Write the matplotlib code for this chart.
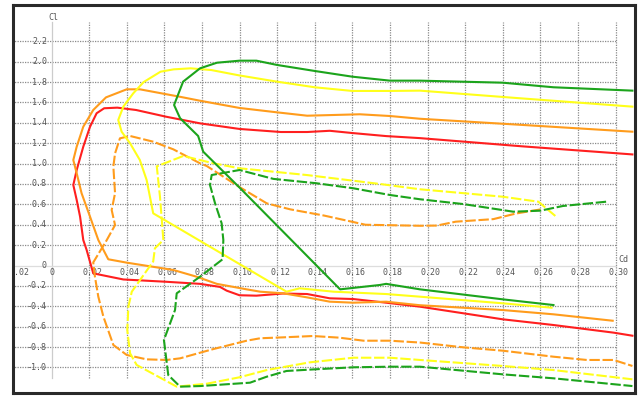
import matplotlib.pyplot as plt

# polaires Cl(Cd) - courbe pleine = extrados, pointillés = intrados
red_cd = [0.309, 0.25, 0.196, 0.178, 0.16, 0.148, 0.136, 0.122, 0.10, 0.079, 0.061, 0.045, 0.035,
          0.028, 0.024, 0.0205, 0.0169, 0.0134, 0.0116, 0.0134, 0.0152, 0.0169, 0.0187, 0.0222,
          0.0382, 0.0613, 0.079, 0.0896, 0.0932, 0.10, 0.109, 0.123, 0.136, 0.148, 0.1605,
          0.178, 0.196, 0.240, 0.267, 0.299, 0.309]
red_cl = [1.09, 1.17, 1.25, 1.27, 1.30, 1.322, 1.31, 1.31, 1.34, 1.395, 1.46, 1.526, 1.549,
          1.543, 1.494, 1.362, 1.166, 0.937, 0.79, 0.643, 0.479, 0.25, 0.152, -0.077,
          -0.137, -0.16, -0.18, -0.21, -0.247, -0.292, -0.296, -0.275, -0.28, -0.322, -0.329,
          -0.365, -0.404, -0.528, -0.584, -0.659, -0.689]

orange_cd = [0.309, 0.25, 0.196, 0.18, 0.164, 0.15, 0.136, 0.12, 0.10, 0.079, 0.068, 0.047, 0.04,
             0.029, 0.0222, 0.0169, 0.0134, 0.0116, 0.0134, 0.016, 0.0205, 0.0249, 0.0302,
             0.04, 0.0648, 0.0772, 0.0879, 0.1038, 0.111, 0.1233, 0.1357, 0.148, 0.1605,
             0.178, 0.196, 0.240, 0.267, 0.2985]
orange_cl = [1.313, 1.38, 1.44, 1.467, 1.484, 1.477, 1.47, 1.503, 1.546, 1.617, 1.657, 1.729, 1.729,
             1.65, 1.526, 1.362, 1.166, 1.035, 0.905, 0.709, 0.479, 0.25, 0.061,
             0.028, -0.044, -0.11, -0.18, -0.234, -0.257, -0.273, -0.312, -0.355, -0.365,
             -0.355, -0.39, -0.437, -0.479, -0.542]

yellow_cd = [0.309, 0.25, 0.196, 0.18, 0.16, 0.14, 0.12, 0.10, 0.085, 0.074, 0.065, 0.058, 0.049,
             0.0435, 0.0382, 0.0355, 0.0373, 0.0418, 0.047, 0.0506, 0.0541, 0.125, 0.132,
             0.15, 0.178, 0.196, 0.240, 0.266]
yellow_cl = [1.559, 1.64, 1.716, 1.713, 1.713, 1.749, 1.804, 1.865, 1.918, 1.935, 1.925, 1.902, 1.80,
             1.69, 1.559, 1.428, 1.313, 1.199, 1.035, 0.839, 0.512, -0.257, -0.224,
             -0.257, -0.28, -0.306, -0.371, -0.414]

green_cd = [0.309, 0.267, 0.240, 0.196, 0.18, 0.16, 0.14, 0.12, 0.109, 0.10, 0.088, 0.079, 0.070,
            0.0652, 0.0684, 0.078, 0.0807, 0.10, 0.1535, 0.1747, 0.178, 0.196, 0.240, 0.267]
green_cl = [1.716, 1.749, 1.794, 1.814, 1.814, 1.853, 1.909, 1.968, 2.01, 2.01, 1.99, 1.935, 1.804,
            1.575, 1.445, 1.271, 1.117, 0.765, -0.234, -0.191, -0.18, -0.234, -0.332, -0.388]

orange_d_cd = [0.26, 0.247, 0.235, 0.215, 0.205, 0.196, 0.167, 0.145, 0.127, 0.1145, 0.10, 0.0826,
               0.079, 0.0648, 0.0541, 0.0418, 0.0364, 0.0338, 0.0329, 0.0338, 0.032, 0.0338,
               0.0294, 0.0222, 0.0231, 0.0249, 0.0276, 0.0329, 0.04, 0.0506, 0.0613, 0.0684,
               0.079, 0.0861, 0.1038, 0.111, 0.1233, 0.139, 0.153, 0.166, 0.18, 0.196, 0.219,
               0.240, 0.267, 0.2847, 0.299, 0.309]
orange_d_cl = [0.55, 0.51, 0.455, 0.43, 0.392, 0.39, 0.40, 0.49, 0.551, 0.61, 0.77, 0.976,
               1.003, 1.14, 1.215, 1.271, 1.248, 1.10, 0.97, 0.709, 0.545, 0.397,
               0.25, 0.03, -0.11, -0.306, -0.502, -0.78, -0.878, -0.921, -0.927, -0.911,
               -0.856, -0.82, -0.738, -0.714, -0.705, -0.692, -0.708, -0.738, -0.738, -0.756, -0.803,
               -0.836, -0.895, -0.927, -0.927, -0.986]

yellow_d_cd = [0.268, 0.2625, 0.259, 0.240, 0.196, 0.1747, 0.1357, 0.10, 0.0861, 0.0701, 0.056,
               0.0577, 0.0595, 0.055, 0.0541, 0.0427, 0.0409, 0.0403, 0.0418, 0.0453, 0.0666,
               0.0826, 0.10, 0.1145, 0.1375, 0.1605, 0.18, 0.196, 0.240, 0.267, 0.309]
yellow_d_cl = [0.486, 0.571, 0.626, 0.675, 0.748, 0.80, 0.888, 0.954, 1.003, 1.075, 0.973,
               0.675, 0.25, 0.169, 0.04, -0.257, -0.404, -0.633, -0.862, -0.976, -1.189,
               -1.16, -1.097, -1.026, -0.95, -0.905, -0.905, -0.927, -0.986, -1.026, -1.117]

green_d_cd = [0.295, 0.272, 0.26, 0.2456, 0.219, 0.196, 0.18, 0.1605, 0.141, 0.118, 0.10, 0.0852,
              0.0843, 0.087, 0.0905, 0.0914, 0.091, 0.079, 0.0666, 0.0657, 0.0598, 0.0621,
              0.0684, 0.079, 0.1056, 0.1145, 0.125, 0.14, 0.1605, 0.18, 0.196, 0.240, 0.267, 0.309]
green_d_cl = [0.626, 0.584, 0.538, 0.528, 0.603, 0.65, 0.692, 0.758, 0.807, 0.85, 0.937, 0.888,
              0.79, 0.61, 0.414, 0.25, 0.061, -0.11, -0.273, -0.437, -0.731, -1.075,
              -1.189, -1.183, -1.15, -1.091, -1.035, -1.019, -0.999, -0.993, -0.993, -1.068, -1.107, -1.183]

x_ticks = [-0.02, 0, 0.02, 0.04, 0.06, 0.08, 0.10, 0.12, 0.14, 0.16, 0.18, 0.20, 0.22, 0.24,
           0.26, 0.28, 0.30]
x_labels = ['-0.02', '0', '0.02', '0.04', '0.06', '0.08', '0.10', '0.12', '0.14', '0.16', '0.18',
            '0.20', '0.22', '0.24', '0.26', '0.28', '0.30']
y_ticks = [-1.0, -0.8, -0.6, -0.4, -0.2, 0, 0.2, 0.4, 0.6, 0.8, 1.0, 1.2, 1.4, 1.6, 1.8, 2.0, 2.2]
y_labels = ['-1.0', '-0.8', '-0.6', '-0.4', '-0.2', '0', '0.2', '0.4', '0.6', '0.8', '1.0',
            '1.2', '1.4', '1.6', '1.8', '2.0', '2.2']

RED = '#ff1f1f'
ORANGE = '#ff9c1c'
YELLOW = '#ffff1a'
GREEN = '#1ca41c'
DASH = (0, (5, 1.3))

fig = plt.figure(figsize=(6.43, 3.96), dpi=100)
ax = fig.add_axes([13 / 643, 3 / 396, 622 / 643, 388 / 396])
ax.set_xlim(-0.02048, 0.31037)
ax.set_ylim(-1.2512, 2.5564)
ax.set_xticks([])
ax.set_yticks([])
for s in ax.spines.values():
    s.set_color('#2a2a2a')
    s.set_linewidth(2.2)

# grille pointillée
grid_kw = dict(color='#8a8a8a', lw=0.9, linestyle=(0, (1, 1)), zorder=1)
for y in y_ticks:
    if y != 0:
        ax.plot([-0.021, 0.30], [y, y], **grid_kw)
for x in x_ticks[2:]:
    ax.plot([x, x], [-1.1, 2.39], **grid_kw)
ax.plot([0, 0], [-1.1, 2.39], color='#cccccc', lw=0.9, zorder=1)
ax.plot([-0.021, 0.30], [0, 0], color='#dddddd', lw=0.9, zorder=1)

txt_kw = dict(fontsize=6, color='#555555', family='DejaVu Sans Mono', clip_on=True, zorder=2)
for x, lab in zip(x_ticks, x_labels):
    off = 0 if lab == '0' else 0.0016
    ax.text(x + off, -0.064, lab, ha='center', va='center', **txt_kw)
for y, lab in zip(y_ticks, y_labels):
    ax.text(-0.0024, y, lab, ha='right', va='center', **txt_kw)
ax.text(0.0008, 2.43, 'Cl', ha='center', va='center', **txt_kw)
ax.text(0.304, 0.054, 'Cd', ha='center', va='center', **txt_kw)

# courbes
ax.plot(red_cd, red_cl, color=RED, lw=1.5, zorder=3)
ax.plot(orange_cd, orange_cl, color=ORANGE, lw=1.5, zorder=3)
ax.plot(orange_d_cd, orange_d_cl, color=ORANGE, lw=1.5, ls=DASH, zorder=3)
ax.plot(yellow_cd, yellow_cl, color=YELLOW, lw=1.5, zorder=4)
ax.plot(yellow_d_cd, yellow_d_cl, color=YELLOW, lw=1.5, ls=DASH, zorder=4)
ax.plot(green_cd, green_cl, color=GREEN, lw=1.5, zorder=5)
ax.plot(green_d_cd, green_d_cl, color=GREEN, lw=1.5, ls=DASH, zorder=5)

fig.savefig('out.png', dpi=100)
